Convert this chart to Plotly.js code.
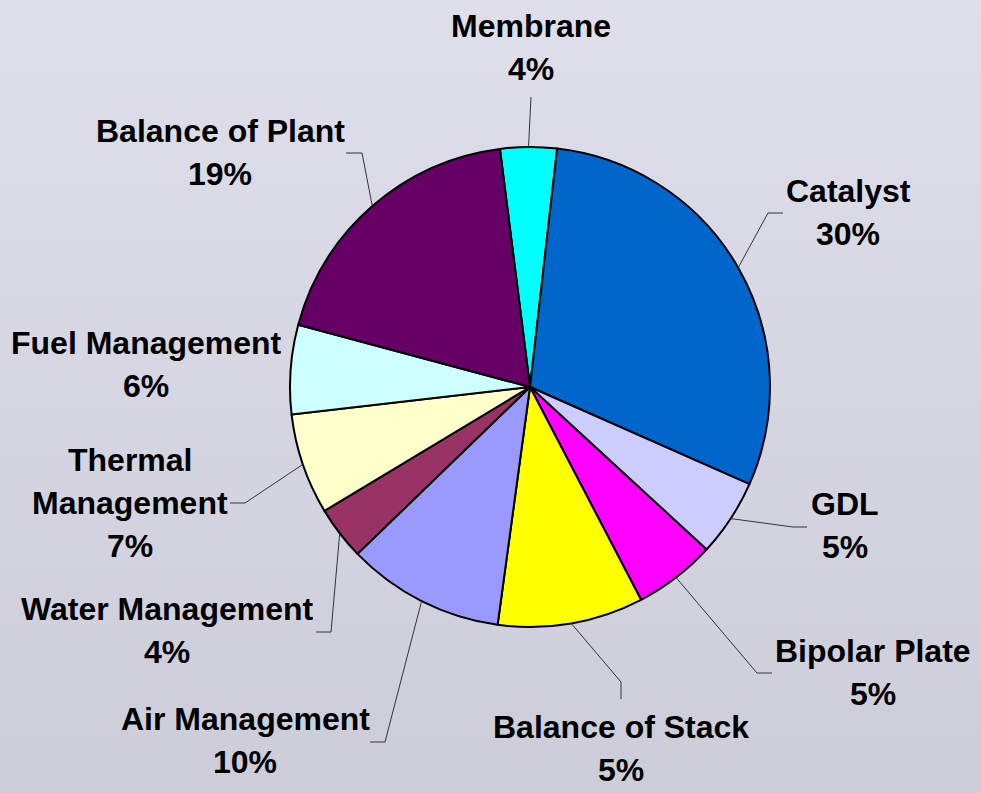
<!DOCTYPE html>
<html><head><meta charset="utf-8">
<script src="https://cdn.plot.ly/plotly-3.0.1.min.js"></script>
<style>
html,body{margin:0;padding:0;width:981px;height:793px;overflow:hidden;background:linear-gradient(180deg,#DFDFEB 0%,#CDCDD9 100%);}
#chart{width:981px;height:793px;}
</style>
</head><body><div id="chart"></div>
<script>
// ---- data ----
const categories = ['Membrane','Catalyst','GDL','Bipolar Plate','Balance of Stack','Air Management','Water Management','Thermal Management','Fuel Management','Balance of Plant'];
const values = [3.8, 29.8, 5.2, 5.5, 9.8, 10.6, 3.6, 6.8, 6.0, 18.8];
const percentLabels = ['4%','30%','5%','5%','5%','10%','4%','7%','6%','19%'];
const labelLines = [['Membrane'],['Catalyst'],['GDL'],['Bipolar Plate'],['Balance of Stack'],['Air Management'],['Water Management'],['Thermal','Management'],['Fuel Management'],['Balance of Plant']];
const sliceColors = ['#00FFFF','#0066CC','#CCCCFF','#FF00FF','#FFFF00','#9999FF','#993366','#FFFFCC','#CCFFFF','#660066'];

// ---- layout (pixels) ----
const W = 981, H = 793;
const cx = 530, cy = 387, R = 240;
const rotation = -7.2;
const lineGap = 43;
const labelPlace = [
  {x:531, y:37,  leader:[[531,97]]},
  {x:848, y:202, leader:[[768,213],[783,213]]},
  {x:845, y:515, leader:[[793,527],[807,527]]},
  {x:873, y:662, leader:[[757,673],[772,673]]},
  {x:621, y:738, leader:[[621,682],[621,699]]},
  {x:245, y:730, leader:[[385,742],[370,742]]},
  {x:167, y:620, leader:[[331,632],[316,632]]},
  {x:130, y:471, leader:[[245,503],[230,503]]},
  {x:146, y:354, leader:null},
  {x:220, y:142, leader:[[362,153],[346,153]]}
];

const px = x => x / W;
const py = y => 1 - y / H;

const total = values.reduce((a,b)=>a+b,0);
let ang = rotation;
const mids = values.map(v => { const f = v/total*360; const m = ang + f/2; ang += f; return m; });

const annotations = [];
const shapes = [];
categories.forEach((c, k) => {
  const p = labelPlace[k];
  const lines = labelLines[k].concat([percentLabels[k]]);
  lines.forEach((t, i) => {
    annotations.push({
      text: '<b>' + t + '</b>', x: px(p.x), y: py(p.y + lineGap*i - 11),
      xref: 'paper', yref: 'paper', xanchor: 'center', yanchor: 'middle', showarrow: false,
      font: {family: 'Liberation Sans, Arial, sans-serif', size: 32, color: '#000000'}
    });
  });
  if (p.leader) {
    const a = mids[k] * Math.PI/180;
    const sx = cx + R*Math.sin(a), sy = cy - R*Math.cos(a);
    let path = 'M ' + px(sx) + ' ' + py(sy);
    p.leader.forEach(pt => { path += ' L ' + px(pt[0]) + ' ' + py(pt[1]); });
    shapes.push({type:'path', xref:'paper', yref:'paper', path: path, line:{color:'#333333', width:1}});
  }
});

const trace = {
  type: 'pie',
  labels: categories,
  values: values,
  text: percentLabels,
  sort: false,
  direction: 'clockwise',
  rotation: rotation,
  textinfo: 'none',
  hoverinfo: 'label+text',
  marker: {colors: sliceColors, line: {color: '#000000', width: 2}},
  domain: {x: [px(cx - R), px(cx + R)], y: [py(cy + R), py(cy - R)]},
  showlegend: false
};

Plotly.newPlot('chart', [trace], {
  width: W, height: H,
  margin: {l:0, r:0, t:0, b:0},
  paper_bgcolor: 'rgba(0,0,0,0)',
  plot_bgcolor: 'rgba(0,0,0,0)',
  showlegend: false,
  annotations: annotations,
  shapes: shapes
}, {displayModeBar: false, staticPlot: false});
</script>
</body></html>
